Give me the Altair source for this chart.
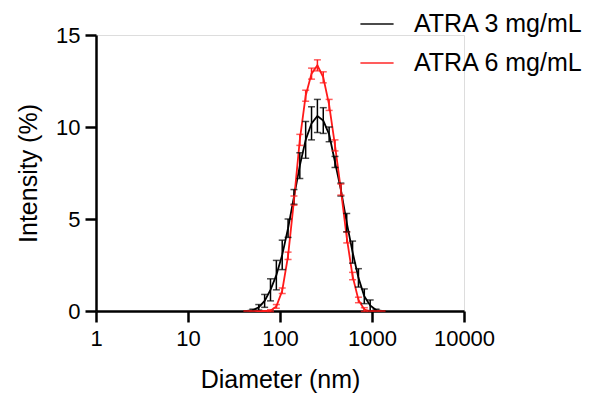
import altair as alt
import pandas as pd

sizes = [43.82, 50.75, 58.77, 68.06, 78.82, 91.28, 105.7, 122.4, 141.8, 164.2, 190.1, 220.2,
         255.0, 295.3, 342.0, 396.1, 458.7, 531.2, 615.1, 712.4, 825.0, 955.4, 1106.0, 1281.0]
atra3 = [0.0, 0.05, 0.2, 0.55, 1.15, 1.95, 3.05, 4.5, 6.2, 7.9, 9.3, 10.2,
         10.6, 10.35, 9.6, 8.1, 6.6, 4.8, 3.2, 1.8, 0.8, 0.3, 0.05, 0.0]
atra3_err = [0.0, 0.05, 0.15, 0.35, 0.6, 0.8, 0.8, 0.5, 0.4, 0.7, 1.0, 0.9,
             0.9, 0.7, 0.4, 0.3, 0.35, 0.5, 0.6, 0.5, 0.4, 0.3, 0.05, 0.0]
atra6 = [0.0, 0.0, 0.0, 0.0, 0.02, 0.25, 1.1, 3.0, 6.0, 9.3, 11.7, 12.9,
         13.35, 12.7, 11.2, 9.0, 6.6, 4.0, 1.9, 0.6, 0.08, 0.0, 0.0, 0.0]
atra6_err = [0.0, 0.0, 0.0, 0.0, 0.05, 0.1, 0.15, 0.2, 0.25, 0.3, 0.3, 0.3,
             0.3, 0.3, 0.3, 0.3, 0.3, 0.3, 0.2, 0.15, 0.1, 0.0, 0.0, 0.0]

series = ["ATRA 3 mg/mL", "ATRA 6 mg/mL"]
colors = ["#000000", "#ff1a1a"]

rows = []
for name, vals, errs in [(series[0], atra3, atra3_err), (series[1], atra6, atra6_err)]:
    for d, v, e in zip(sizes, vals, errs):
        rows.append({"d": d, "v": v, "lo": v - e, "hi": v + e, "s": name})
df = pd.DataFrame(rows)

font = "Liberation Sans"
xscale = alt.Scale(type="log", domain=[1, 10000], nice=False)
yscale = alt.Scale(domain=[0, 15], nice=False, zero=True)
cscale = alt.Scale(domain=series, range=colors)

xs = alt.X("d:Q", scale=xscale,
           axis=alt.Axis(values=[1, 10, 100, 1000, 10000], format="d", title="Diameter (nm)",
                         grid=False, domainWidth=2.5, tickWidth=2.5, tickSize=11,
                         labelFontSize=22, titleFontSize=25, labelPadding=6, titlePadding=18,
                         labelFont=font, titleFont=font, labelColor="black", titleColor="black",
                         domainColor="black", tickColor="black", titleFontWeight="normal",
                         labelFlush=False))
ys = alt.Y("v:Q", scale=yscale,
           axis=alt.Axis(values=[0, 5, 10, 15], title="Intensity (%)", grid=False,
                         domainWidth=2.5, tickWidth=2.5, tickSize=11,
                         labelFontSize=22, titleFontSize=25, labelPadding=5, titlePadding=14,
                         labelFont=font, titleFont=font, labelColor="black", titleColor="black",
                         domainColor="black", tickColor="black", titleFontWeight="normal"))
col = alt.Color("s:N", scale=cscale,
                legend=alt.Legend(title=None, orient="none", legendX=263, legendY=-29,
                                  symbolType="stroke", symbolSize=1100, symbolStrokeWidth=2,
                                  labelFontSize=25, labelFont=font, labelColor="black",
                                  labelOffset=19, rowPadding=8, labelLimit=300))

base = alt.Chart(df)
lines = base.mark_line(strokeWidth=1.8).encode(x=xs, y=ys, color=col, detail="s:N")
rules = base.mark_rule(strokeWidth=1.5).encode(
    x=alt.X("d:Q", scale=xscale), y=alt.Y("lo:Q", scale=yscale), y2="hi:Q",
    color=alt.Color("s:N", scale=cscale))
caps_hi = base.mark_tick(orient="horizontal", size=7, thickness=1.5).encode(
    x=alt.X("d:Q", scale=xscale), y=alt.Y("hi:Q", scale=yscale),
    color=alt.Color("s:N", scale=cscale))
caps_lo = base.mark_tick(orient="horizontal", size=7, thickness=1.5).encode(
    x=alt.X("d:Q", scale=xscale), y=alt.Y("lo:Q", scale=yscale),
    color=alt.Color("s:N", scale=cscale))

chart = alt.layer(lines, rules, caps_hi, caps_lo).properties(
    width=368, height=276,
    autosize=alt.AutoSizeParams(type="none"),
    padding={"left": 88, "top": 27, "right": 119, "bottom": 82},
).configure_view(stroke=None).configure(background="white")

chart.save("out.html", embed_options={"renderer": "svg", "actions": False})
